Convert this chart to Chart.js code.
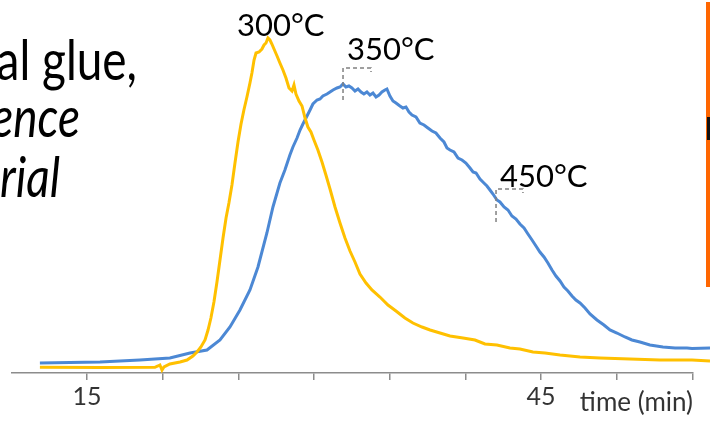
<!DOCTYPE html>
<html>
<head>
<meta charset="utf-8">
<script src="https://cdn.jsdelivr.net/npm/chart.js@4/dist/chart.umd.min.js"></script>
<style>
  html, body { margin: 0; padding: 0; background: #fff; }
  #wrap { position: relative; width: 710px; height: 421px; overflow: hidden; }
  #c { position: absolute; left: 0; top: 0; }
</style>
</head>
<body>
<div id="wrap"><canvas id="c" width="710" height="421"></canvas></div>
<script>
// ── Datos (tiempo en min, señal en u.a.) ──
var timeYellow = [11.89, 15.86, 19.49, 19.69, 19.82, 19.96, 20.09, 20.48, 21.15, 21.61, 22.00, 22.27, 22.53, 22.80,
  23.00, 23.19, 23.39, 23.59, 23.79, 23.99, 24.19, 24.38, 24.58, 24.78, 24.98, 25.18, 25.37, 25.57,
  25.77, 25.90, 26.04, 26.17, 26.37, 26.56, 26.70, 26.83, 26.96, 27.09, 27.22, 27.36, 27.56, 27.75,
  27.95, 28.15, 28.35, 28.55, 28.68, 28.81, 29.01, 29.21, 29.41, 29.60, 29.80, 30.00, 30.26, 30.53,
  30.79, 31.06, 31.39, 31.72, 32.05, 32.38, 32.71, 33.04, 33.44, 33.83, 34.36, 34.89, 35.42, 36.01,
  36.54, 37.14, 37.67, 38.33, 38.99, 39.85, 40.64, 41.30, 42.09, 42.95, 43.61, 44.47, 45.27, 46.26,
  47.58, 48.90, 50.88, 52.86, 54.98, 56.17];
var sigYellow = [5.7, 5.5, 5.7, 7, 8, 3, 6, 9, 11, 13, 17, 21, 26, 33,
  43, 55, 71, 91, 113, 135, 155, 170, 188, 210, 231, 249, 263, 276,
  290, 300, 313, 320, 321, 324, 328, 330, 335, 333, 329, 324, 317, 310,
  303, 295, 285, 282, 288, 279, 272, 267, 255, 246, 241, 233, 223, 211,
  198, 184, 166, 150, 135, 122, 111, 99, 90, 83, 76, 68, 62, 55,
  50, 46, 43, 40, 37, 35, 33, 29, 28, 25, 24, 21, 20, 18,
  16, 15, 14, 13, 13, 12];

var timeBlue = [11.89, 15.86, 18.50, 20.48, 21.81, 22.93, 23.79, 24.45, 25.11, 25.77, 26.30, 26.89, 27.29,
  27.75, 28.08, 28.41, 28.61, 28.88, 29.08, 29.27, 29.54, 29.74, 29.93, 30.20, 30.40, 30.59, 30.86,
  31.06, 31.26, 31.52, 31.72, 31.92, 32.11, 32.31, 32.51, 32.71, 32.91, 33.11, 33.30, 33.50, 33.70,
  33.90, 34.10, 34.30, 34.49, 34.69, 34.82, 35.02, 35.22, 35.42, 35.68, 35.88, 36.08, 36.28, 36.48,
  36.74, 37.00, 37.27, 37.53, 37.80, 38.06, 38.33, 38.59, 38.79, 38.99, 39.25, 39.52, 39.78, 40.04,
  40.31, 40.51, 40.71, 40.97, 41.23, 41.43, 41.63, 41.83, 42.09, 42.29, 42.56, 42.82, 43.08, 43.35,
  43.61, 43.88, 44.14, 44.41, 44.67, 44.93, 45.20, 45.46, 45.73, 45.99, 46.26, 46.52, 46.78, 47.05,
  47.31, 47.58, 47.91, 48.24, 48.70, 49.16, 49.56, 50.02, 50.55, 51.01, 51.54, 52.20, 53.06, 53.86,
  54.65, 54.98, 56.17];
var sigBlue = [10, 11, 13, 15, 20, 23, 33, 46, 63, 83, 106, 140, 166,
  190, 203, 218, 226, 235, 243, 249, 257, 263, 269, 273, 274, 277, 279,
  281, 283, 285, 286, 289, 286, 287, 285, 282, 284, 281, 279, 281, 278,
  280, 276, 278, 281, 283, 284, 277, 272, 270, 267, 265, 266, 261, 258,
  256, 250, 248, 245, 242, 240, 235, 231, 225, 223, 221, 215, 213, 210,
  205, 201, 200, 194, 190, 187, 183, 179, 173, 171, 166, 163, 157, 154,
  149, 145, 139, 133, 127, 121, 116, 110, 103, 97, 92, 86, 82, 77,
  73, 70, 65, 59, 53, 48, 43, 40, 36, 33, 31, 28, 26, 25,
  25, 24.5, 25];

var xTickLabels = [15, 45];

// Etiquetas de temperatura (posición en coordenadas de datos)
var peakLabels = ['300°C', '350°C', '450°C'];
var peakLabelTime = [24.91, 32.18, 42.29];
var peakLabelSig = [337, 313, 186];
// Líneas guía punteadas (null = sin guía)
var leaderTime = [null, 31.92, 42.03];
var leaderEndTime = [null, 33.77, 43.81];
var leaderTop = [null, 305, 184];
var leaderBottom = [null, 273, 151];

var FONT = 'Lato, "Open Sans", sans-serif';

function pts(xs, ys) { return xs.map(function (x, i) { return { x: x, y: ys[i] }; }); }

// texto comprimido en horizontal (la fuente original es más estrecha)
function narrowText(ctx, s, x, y, sx) {
  ctx.save(); ctx.translate(x, y); ctx.scale(sx, 1); ctx.fillText(s, 0, 0); ctx.restore();
}

// ── Textos y guías sobre el gráfico ──
var overlay = {
  id: 'overlay',
  afterDatasetsDraw: function (chart) {
    var ctx = chart.ctx, xs = chart.scales.x, ys = chart.scales.y;
    ctx.save();
    // guías punteadas
    ctx.strokeStyle = '#808080'; ctx.lineWidth = 1.5; ctx.setLineDash([4, 3]);
    leaderTime.forEach(function (t, i) {
      if (t == null) return;
      var x0 = xs.getPixelForValue(t), x1 = xs.getPixelForValue(leaderEndTime[i]);
      var yT = ys.getPixelForValue(leaderTop[i]), yB = ys.getPixelForValue(leaderBottom[i]);
      ctx.beginPath();
      ctx.moveTo(x0, yB); ctx.lineTo(x0, yT); ctx.lineTo(x1, yT); ctx.lineTo(x1, yT + 4);
      ctx.stroke();
    });
    ctx.setLineDash([]);
    // etiquetas de temperatura
    ctx.fillStyle = '#000'; ctx.font = '31px ' + FONT; ctx.textAlign = 'left'; ctx.textBaseline = 'alphabetic';
    peakLabels.forEach(function (s, i) {
      ctx.fillText(s, xs.getPixelForValue(peakLabelTime[i]), ys.getPixelForValue(peakLabelSig[i]));
    });
    // texto de la diapositiva (recortado a la izquierda)
    ctx.textAlign = 'right';
    ctx.font = '56px ' + FONT;
    narrowText(ctx, 'al glue,', 137, 80, 0.82);
    ctx.font = 'italic 56px ' + FONT;
    narrowText(ctx, 'ence', 80, 137, 0.82);
    narrowText(ctx, 'rial', 60, 197, 0.82);
    // título del eje
    ctx.font = '26px ' + FONT; ctx.fillStyle = '#333';
    ctx.fillText('time (min)', 693, 411);
    // recuadro naranja recortado a la derecha
    ctx.fillStyle = '#FF6600'; ctx.fillRect(706, 2, 4, 285);
    ctx.fillStyle = '#111'; ctx.fillRect(707, 117, 3, 23);
    ctx.restore();
  }
};

new Chart(document.getElementById('c'), {
  type: 'line',
  data: {
    datasets: [
      { label: 'yellow', data: pts(timeYellow, sigYellow), borderColor: '#FFC000', borderWidth: 3, pointRadius: 0, tension: 0, clip: false },
      { label: 'blue', data: pts(timeBlue, sigBlue), borderColor: '#4C88D4', borderWidth: 3, pointRadius: 0, tension: 0, clip: false }
    ]
  },
  options: {
    responsive: false, animation: false, devicePixelRatio: 1,
    layout: { padding: { left: 11.3, right: 17.7, top: 0, bottom: 7 } },
    plugins: { legend: { display: false }, tooltip: { enabled: false } },
    scales: {
      x: {
        type: 'linear', min: 10, max: 55,
        afterBuildTicks: function (s) { s.ticks = s.ticks.filter(function (t) { return t.value >= 15 && t.value % 5 === 0; }); },
        ticks: {
          stepSize: 5, autoSkip: false, maxRotation: 0, padding: 2, color: '#333',
          font: { family: FONT, size: 25 },
          callback: function (v) { return xTickLabels.indexOf(v) >= 0 ? String(v) : ''; }
        },
        grid: { drawOnChartArea: false, drawTicks: true, tickLength: 7, color: '#8c8c8c', lineWidth: 1.5 },
        border: { color: '#8c8c8c', width: 1.5 }
      },
      y: { display: false, min: 0, max: 373 }
    }
  },
  plugins: [overlay]
});
</script>
</body>
</html>
